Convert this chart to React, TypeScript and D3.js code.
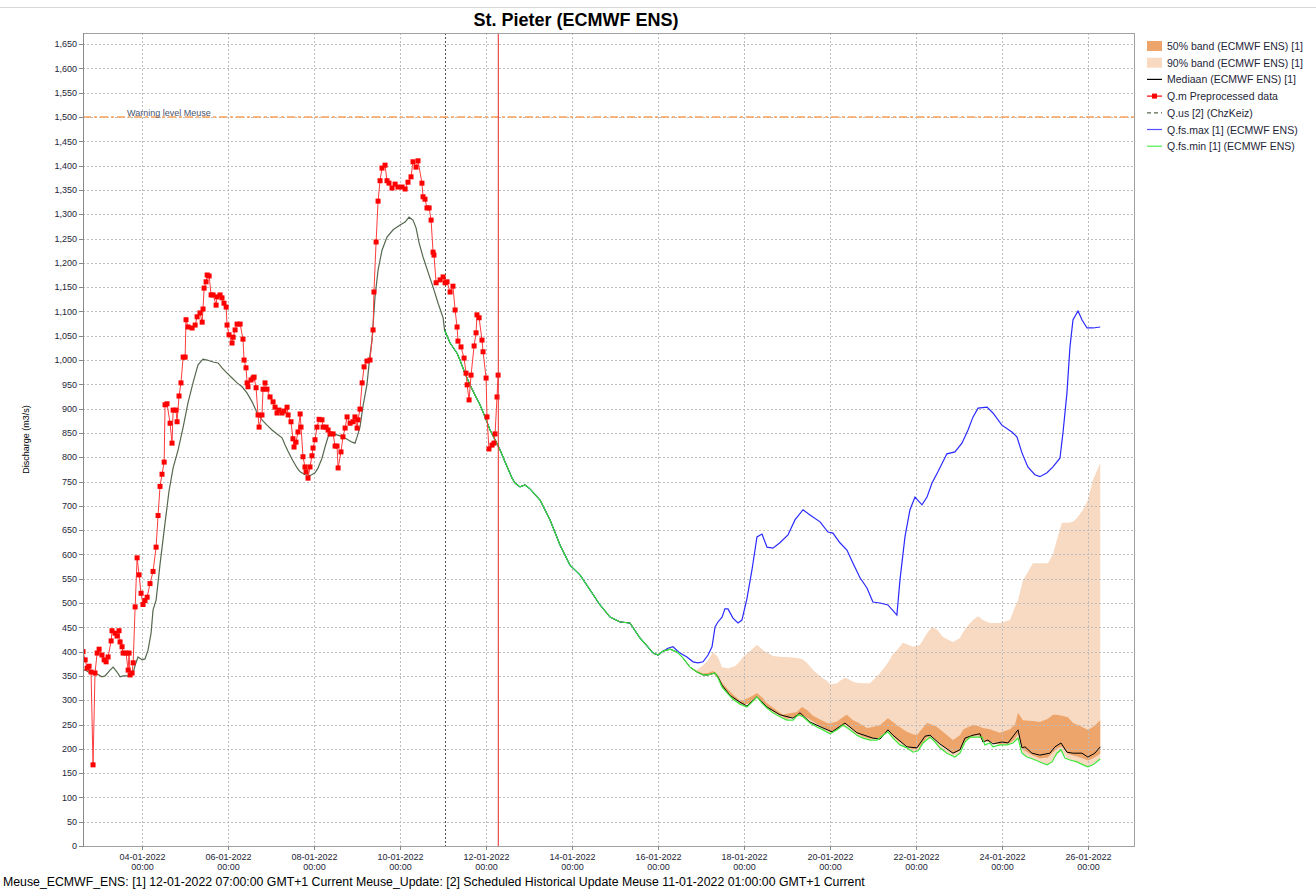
import React from "react";
import * as d3 from "d3";

// ---------- text ----------
const TITLE = "St. Pieter (ECMWF ENS)";
const Y_LABEL = "Discharge (m3/s)";
const FOOTER =
  "Meuse_ECMWF_ENS: [1] 12-01-2022 07:00:00 GMT+1 Current Meuse_Update: [2] Scheduled Historical Update Meuse 11-01-2022 01:00:00 GMT+1 Current";
const WARNING_LABEL = "Warning level Meuse";
const WARNING_LEVEL = 1500;

// ---------- axes ----------
const BASE = new Date(2022, 0, 2, 0, 0, 0); // hours below are counted from 02-01-2022 00:00
const xTickLabels = [
  "04-01-2022", "06-01-2022", "08-01-2022", "10-01-2022", "12-01-2022", "14-01-2022",
  "16-01-2022", "18-01-2022", "20-01-2022", "22-01-2022", "24-01-2022", "26-01-2022",
];
const xTickTime = "00:00";
const yTickValues = d3.range(0, 1651, 50);
const xDomainHours = [15.2, 602.4];
const yDomain = [0, 1673];
const UPDATE_HOURS = 217; // 11-01-2022 01:00
const T0_HOURS = 247; // 12-01-2022 07:00

// ---------- series: [hours since 02-01-2022 00:00, m3/s] ----------
const qmPreprocessed: [number, number][] = [
  [15.2,400],[16.4,383],[17.5,366],[18.6,370],[19.7,358],[20.8,167],[21.9,356],[23.1,397],[24.2,405],[25.8,393],
  [27.0,383],[28.1,379],[29.2,389],[30.9,422],[31.4,443],[33.1,438],[34.2,432],[35.3,443],[35.9,420],[37.0,410],
  [37.6,397],[39.2,397],[40.4,362],[40.9,397],[41.5,352],[42.6,356],[43.2,377],[44.3,492],[45.4,593],[46.5,558],
  [47.6,520],[48.7,497],[49.8,505],[51.0,512],[52.6,540],[54.3,565],[56.0,615],[57.1,680],[58.2,740],[59.3,765],
  [60.5,790],[61.0,908],[62.1,910],[63.8,870],[64.9,829],[65.5,897],[67.1,897],[67.7,873],[68.8,926],[69.9,953],
  [71.1,1006],[72.2,1006],[72.7,1083],[73.8,1068],[76.1,1066],[77.8,1072],[78.9,1089],[80.5,1097],[81.7,1078],[82.2,1105],
  [82.8,1148],[83.9,1161],[84.5,1175],[85.6,1173],[86.7,1134],[87.8,1134],[89.5,1113],[90.0,1130],[91.7,1134],[92.8,1128],
  [93.9,1117],[95.1,1109],[95.6,1072],[96.7,1052],[98.4,1035],[99.0,1047],[100.1,1062],[101.2,1074],[102.9,1074],[104.5,1043],
  [105.1,1000],[106.2,984],[106.8,953],[107.3,945],[109.0,959],[110.1,963],[110.7,965],[111.8,943],[112.9,887],[113.5,862],
  [115.1,887],[115.7,940],[116.8,953],[117.9,940],[119.6,924],[121.3,914],[122.4,903],[123.5,891],[124.6,897],[126.3,891],
  [127.4,895],[129.1,903],[129.7,887],[131.3,873],[132.4,838],[133.0,821],[134.1,831],[135.2,852],[136.4,889],[136.9,862],
  [138.0,801],[139.1,780],[139.7,770],[140.8,757],[141.9,780],[143.0,803],[143.6,819],[144.7,836],[145.8,862],[147.0,878],
  [148.6,877],[149.2,862],[150.9,862],[152.0,856],[153.1,848],[154.8,848],[155.9,823],[157.0,823],[157.6,778],[159.2,811],
  [160.3,842],[161.5,860],[162.6,883],[164.3,870],[165.9,873],[167.0,883],[168.2,860],[168.7,877],[169.8,899],[171.0,953],
  [172.1,986],[173.7,998],[175.4,1000],[177.1,1062],[177.6,1140],[178.8,1243],[179.9,1327],[181.0,1369],[182.1,1395],[183.8,1401],
  [184.9,1369],[186.0,1364],[187.7,1354],[189.4,1362],[191.0,1356],[193.3,1356],[195.0,1352],[196.6,1366],[198.3,1377],[199.4,1408],
  [201.1,1397],[202.2,1410],[204.4,1364],[205.0,1336],[206.1,1331],[207.2,1313],[208.4,1313],[209.5,1288],[210.6,1222],[211.1,1216],
  [212.3,1159],[214.5,1165],[216.2,1171],[217.3,1159],[218.4,1161],[220.1,1140],[221.7,1152],[222.9,1103],[224.0,1068],[224.5,1039],
  [226.2,1027],[227.9,1004],[229.0,973],[229.6,949],[230.7,918],[231.8,969],[233.5,1029],[234.6,1056],[235.1,1093],[236.3,1087],
  [237.9,1041],[238.5,1017],[240.2,963],[240.7,883],[241.8,817],[243.5,825],[244.6,829],[245.2,848],[246.3,924],[246.9,969],
];

const qusChzKeiz: [number, number][] = [
  [15.2,362],[16.4,362],[19.1,356],[23.1,354],[25.8,348],[27.5,350],[30.3,362],[32.0,368],[34.2,358],[35.9,348],
  [37.6,350],[41.5,350],[43.2,356],[44.3,372],[45.9,389],[48.2,383],[49.8,385],[51.5,403],[53.2,438],[54.3,486],
  [56.0,506],[58.2,580],[61.0,665],[63.2,730],[65.5,778],[68.3,815],[71.1,862],[73.8,912],[76.6,953],[79.4,990],
  [82.2,1002],[84.5,1000],[87.8,996],[90.6,994],[92.8,984],[95.6,973],[98.4,963],[101.2,953],[104.0,945],[106.8,932],
  [109.6,914],[112.4,891],[115.1,877],[117.9,866],[120.7,856],[123.5,848],[126.3,840],[128.0,825],[129.7,812],[131.9,796],
  [134.7,778],[136.4,770],[139.1,764],[141.9,762],[144.7,768],[146.4,778],[148.6,798],[150.3,821],[152.0,842],[154.2,848],
  [157.0,846],[160.3,842],[165.4,831],[167.0,829],[168.2,842],[169.8,862],[171.5,905],[173.7,950],[175.4,1010],[176.5,1041],
  [178.2,1130],[179.9,1185],[182.1,1226],[184.9,1253],[188.3,1268],[192.2,1278],[195.0,1284],[197.2,1294],[199.4,1288],[201.1,1272],
  [202.8,1241],[205.0,1212],[207.8,1181],[210.6,1150],[213.4,1117],[216.2,1087],[217.0,1062],
];

const qfsMin: [number, number][] = [
  [217,1062],[220.1,1035],[224.0,1014],[225.6,1000],[228.4,973],[231.2,949],[234.0,928],[236.8,908],[239.6,883],[242.4,856],
  [245.2,836],[248.0,815],[250.8,790],[254.7,757],[256.3,747],[259.1,739],[261.9,743],[264.7,735],[270.3,712],[275.9,671],
  [281.5,619],[287.0,578],[292.6,558],[298.2,527],[303.8,496],[309.4,471],[315.0,461],[320.5,459],[326.1,428],[330.0,412],
  [333.4,397],[336.2,393],[339.0,401],[342.9,405],[346.8,399],[350.1,387],[354.0,368],[357.9,358],[361.3,352],[364.1,352],
  [368.0,356],[369.6,346],[371.9,327],[374.7,315],[378.0,302],[381.9,292],[385.8,286],[388.6,296],[391.4,307],[394.2,294],
  [397.0,284],[400.3,274],[404.2,266],[408.1,259],[411.5,259],[414.3,270],[417.1,266],[421.0,253],[424.9,245],[428.2,239],
  [432.2,231],[436.1,239],[439.4,249],[443.3,239],[447.2,228],[450.6,222],[454.5,218],[458.4,218],[461.7,228],[464.5,235],
  [467.3,222],[471.2,208],[475.1,202],[478.5,193],[481.3,196],[484.1,212],[488.0,224],[490.8,214],[493.5,202],[497.4,191],
  [501.9,183],[504.7,191],[507.5,214],[510.3,224],[514.2,224],[517.0,224],[518.6,208],[521.4,212],[523.1,204],[527.0,208],
  [530.9,208],[534.3,212],[537.1,222],[539.3,191],[542.1,183],[545.4,179],[549.3,173],[553.3,167],[556.1,173],[558.8,191],
  [561.1,198],[563.3,181],[566.1,177],[570.0,173],[573.4,167],[576.1,163],[578.9,167],[583,179],
];

const mediaan: [number, number][] = [
  [217,1062],[220.1,1035],[224.0,1014],[225.6,1000],[228.4,973],[231.2,949],[234.0,928],[236.8,908],[239.6,883],[242.4,856],
  [245.2,836],[248.0,815],[250.8,790],[254.7,757],[256.3,747],[259.1,739],[261.9,743],[264.7,735],[270.3,712],[275.9,671],
  [281.5,619],[287.0,578],[292.6,558],[298.2,527],[303.8,496],[309.4,471],[315.0,461],[320.5,459],[326.1,428],[330.0,412],
  [333.4,397],[336.2,393],[339.0,401],[342.9,405],[346.8,399],[350.1,387],[354.0,368],[357.9,358],[361.3,352],[364.1,352],
  [368.0,356],[369.6,348],[371.9,331],[376.3,310],[381.9,296],[385.8,288],[391.4,307],[397.0,286],[404.2,270],[411.5,263],
  [415.4,274],[421.0,255],[428.2,243],[433.3,235],[440.5,253],[447.2,233],[456.1,222],[460.1,220],[464.5,239],[467.3,228],
  [475.1,204],[480.7,202],[485.2,226],[488.0,228],[493.5,210],[500.8,191],[504.7,198],[507.5,222],[512.0,228],[515.9,231],
  [517.5,214],[520.3,218],[523.1,210],[528.1,214],[531.5,212],[537.1,239],[539.3,202],[541.0,204],[544.9,191],[549.3,187],
  [554.9,191],[557.7,204],[561.1,212],[564.4,193],[567.8,191],[572.8,191],[576.1,183],[580.0,191],[583,204],
];

const qfsMax: [number, number][] = [
  [217,1062],[220.1,1035],[224.0,1014],[225.6,1000],[228.4,973],[231.2,949],[234.0,928],[236.8,908],[239.6,883],[242.4,856],
  [245.2,836],[248.0,815],[250.8,790],[254.7,757],[256.3,747],[259.1,739],[261.9,743],[264.7,735],[270.3,712],[275.9,671],
  [281.5,619],[287.0,578],[292.6,558],[298.2,527],[303.8,496],[309.4,471],[315.0,461],[320.5,459],[326.1,428],[330.0,412],
  [333.4,397],[336.2,393],[339.0,401],[341.7,407],[344.5,410],[348.4,397],[352.3,389],[355.7,379],[358.5,377],[361.3,379],
  [364.1,393],[366.3,410],[368.0,451],[369.6,461],[371.9,471],[373.5,488],[375.2,488],[378.0,469],[380.8,459],[383.0,465],
  [385.8,509],[388.6,568],[391.4,636],[394.2,642],[397.0,615],[400.3,613],[404.2,624],[408.7,640],[412.6,671],[417.1,692],
  [421.0,681],[426.6,667],[431.0,646],[433.8,644],[437.7,624],[441.6,609],[445.0,582],[448.9,552],[452.8,531],[456.1,502],
  [460.1,500],[464.5,496],[469.5,475],[471.2,547],[474.0,636],[476.8,692],[479.6,718],[483.5,702],[486.3,718],[489.1,747],
  [492.4,770],[497.4,807],[501.9,811],[505.8,829],[509.2,856],[512.0,883],[514.8,901],[519.8,903],[523.1,891],[528.1,866],
  [533.7,852],[536.5,842],[539.3,809],[542.6,780],[546.5,764],[549.3,760],[553.3,768],[556.6,780],[560.5,798],[562.2,850],
  [564.4,932],[566.1,1027],[567.8,1083],[570.6,1101],[572.8,1083],[575.6,1066],[578.9,1066],[583,1068],
];

// ensemble bands (hours since 02-01-2022 00:00)
const bandHours = [
  354.0,357.9,361.3,364.1,366.8,369.6,371.9,375.2,379.1,381.9,383.6,387.5,391.4,394.8,397.0,400.3,405.9,408.1,413.7,416.5,
  419.3,422.7,427.7,430.5,432.2,436.1,437.7,440.5,441.6,445.0,447.2,450.6,452.8,454.5,460.1,464.5,467.3,469.5,472.9,475.1,
  478.5,480.7,482.4,486.3,489.1,491.9,495.2,500.8,504.7,506.4,508.6,512.0,514.8,517.5,521.4,527.0,532.6,535.4,537.1,539.9,
  545.4,549.3,553.8,556.6,558.8,561.6,565.0,567.8,570.0,573.4,576.1,578.9,583,
];
const band90Lo = [
  368,358,352,352,355,346,327,313,299,292,289,292,307,292,284,274,263,259,268,267,
  259,250,240,235,231,239,244,246,244,234,228,222,220,218,223,235,222,214,205,202,
  193,195,202,219,220,209,197,185,191,205,218,224,224,218,212,208,210,216,222,189,
  179,173,168,176,191,194,179,176,173,167,163,167,179,
];
const band50Lo = [
  368,358,352,352,355,347,329,315,301,294,291,294,308,295,286,277,266,262,266,270,
  264,256,244,240,234,240,245,250,249,240,232,225,222,220,222,238,226,218,210,205,
  199,200,206,224,226,216,206,190,196,210,220,226,228,216,214,210,212,220,230,198,
  186,180,182,193,200,205,190,186,184,180,176,180,190,
];
const band50Hi = [
  368,360,355,356,360,352,336,322,308,300,300,306,315,304,294,285,270,272,276,286,
  280,268,258,253,252,256,261,268,270,259,255,248,243,244,249,263,255,249,240,235,
  230,228,236,253,250,245,235,218,228,239,244,249,247,243,240,233,240,250,274,259,
  257,255,262,270,270,268,265,253,250,244,239,245,259,
];
const band90Hi = [
  368,362,372,382,399,389,368,366,370,380,389,401,414,403,398,391,389,389,387,385,
  377,362,346,340,333,335,340,346,345,338,336,335,335,335,356,377,395,403,418,415,
  410,412,414,438,451,445,430,420,428,440,451,465,473,465,459,459,465,492,506,547,
  582,582,582,600,630,665,665,667,675,692,712,753,788,
];

// ---------- styling ----------
const W = 1316;
const H = 891;
const PLOT = { left: 83, right: 1135, top: 33, bottom: 846 };
const FONT = "'Liberation Sans', Arial, sans-serif";
const C = {
  band50: "#EEA56B",
  band90: "#F8DAC2",
  median: "#000000",
  obs: "#FF0000",
  obsLine: "#FF3C3C",
  qus: "#56684F",
  max: "#2A2AFF",
  min: "#3CE83C",
  grid: "#BDBDBD",
  frame: "#A0A0A0",
  text: "#1E2638",
  warn: "#F9A25C",
};

const legendItems = [
  { label: "50% band (ECMWF ENS) [1]", kind: "rect", color: C.band50 },
  { label: "90% band (ECMWF ENS) [1]", kind: "rect", color: C.band90 },
  { label: "Mediaan (ECMWF ENS) [1]", kind: "line", color: C.median },
  { label: "Q.m Preprocessed data", kind: "marker", color: C.obs },
  { label: "Q.us [2] (ChzKeiz)", kind: "dash", color: C.qus },
  { label: "Q.fs.max [1] (ECMWF ENS)", kind: "line", color: "#5050FF" },
  { label: "Q.fs.min [1] (ECMWF ENS)", kind: "line", color: "#50F050" },
];

const toDate = (h: number) => new Date(BASE.getTime() + h * 3600000);
const parseTick = d3.timeParse("%d-%m-%Y");

export default function App() {
  const x = d3
    .scaleTime()
    .domain([toDate(xDomainHours[0]), toDate(xDomainHours[1])])
    .range([PLOT.left, PLOT.right]);
  const y = d3.scaleLinear().domain(yDomain).range([PLOT.bottom, PLOT.top]);

  const line = d3
    .line<[number, number]>()
    .x((d) => x(toDate(d[0])))
    .y((d) => y(d[1]));

  const area = (lo: number[], hi: number[]) =>
    d3
      .area<number>()
      .x((h) => x(toDate(h)))
      .y0((_, i) => y(lo[i]))
      .y1((_, i) => y(hi[i]))(bandHours) || "";

  const xTicks = xTickLabels.map((s) => ({ label: s, date: parseTick(s) as Date }));
  const fmt = d3.format(",");
  const xUpdate = x(toDate(UPDATE_HOURS));
  const xT0 = x(toDate(T0_HOURS));
  const yWarn = y(WARNING_LEVEL);

  return (
    <svg
      width={W}
      height={H}
      style={{ position: "absolute", left: 0, top: 0, background: "#fff" }}
      fontFamily={FONT}
    >
      <rect x={0} y={0} width={W} height={H} fill="#fff" />
      <line x1={0} x2={W} y1={7.5} y2={7.5} stroke="#D8D8D8" />

      {/* title */}
      <text x={576} y={26} textAnchor="middle" fontSize={18} fontWeight="bold" fill="#000">
        {TITLE}
      </text>

      <defs>
        <clipPath id="plotClip">
          <rect x={PLOT.left} y={PLOT.top} width={PLOT.right - PLOT.left} height={PLOT.bottom - PLOT.top} />
        </clipPath>
      </defs>

      {/* bands */}
      <g clipPath="url(#plotClip)">
        <path d={area(band90Lo, band90Hi)} fill={C.band90} />
        <path d={area(band50Lo, band50Hi)} fill={C.band50} />
      </g>

      {/* grid */}
      <g>
        {yTickValues.slice(1).map((v) => (
          <line
            key={"gy" + v}
            x1={PLOT.left}
            x2={PLOT.right}
            y1={Math.round(y(v)) + 0.5}
            y2={Math.round(y(v)) + 0.5}
            stroke={C.grid}
            strokeDasharray="2,2"
          />
        ))}
        {xTicks.map((t) => (
          <line
            key={"gx" + t.label}
            x1={Math.round(x(t.date)) + 0.5}
            x2={Math.round(x(t.date)) + 0.5}
            y1={PLOT.top}
            y2={PLOT.bottom}
            stroke={C.grid}
            strokeDasharray="2,2"
          />
        ))}
        <line
          x1={Math.round(xUpdate) + 0.5}
          x2={Math.round(xUpdate) + 0.5}
          y1={PLOT.top}
          y2={PLOT.bottom}
          stroke="#505050"
          strokeDasharray="2,2"
        />
      </g>

      {/* warning level */}
      <line
        x1={PLOT.left}
        x2={PLOT.right}
        y1={yWarn}
        y2={yWarn}
        stroke={C.warn}
        strokeWidth={1.5}
        strokeDasharray="8,3,3,3"
      />
      <text x={127} y={yWarn - 1.5} fontSize={9} fill="#4A5570">
        {WARNING_LABEL}
      </text>

      {/* lines */}
      <g clipPath="url(#plotClip)" fill="none">
        <path d={line(qusChzKeiz) || ""} stroke={C.qus} strokeWidth={1.2} />
        <path d={line(qfsMax) || ""} stroke={C.max} strokeWidth={1.2} />
        <path d={line(mediaan) || ""} stroke={C.median} strokeWidth={1} />
        <path d={line(qfsMin) || ""} stroke={C.min} strokeWidth={1.2} />
        <path d={line(qmPreprocessed) || ""} stroke={C.obsLine} strokeWidth={1} />
        {qmPreprocessed.map((d, i) => (
          <rect
            key={"m" + i}
            x={x(toDate(d[0])) - 2.5}
            y={y(d[1]) - 2.5}
            width={5}
            height={5}
            fill={C.obs}
          />
        ))}
      </g>

      {/* forecast T0 */}
      <line x1={xT0} x2={xT0} y1={PLOT.top} y2={PLOT.bottom} stroke="#E8282A" strokeWidth={1} />

      {/* frame */}
      <rect
        x={PLOT.left + 0.5}
        y={PLOT.top + 0.5}
        width={PLOT.right - PLOT.left - 1}
        height={PLOT.bottom - PLOT.top}
        fill="none"
        stroke={C.frame}
      />
      <line x1={PLOT.left + 0.5} x2={PLOT.left + 0.5} y1={PLOT.top} y2={PLOT.bottom + 1} stroke="#8A8A8A" />

      {/* y axis */}
      <g fontSize={9} fill={C.text} textAnchor="end">
        {yTickValues.map((v) => (
          <g key={"yt" + v}>
            <line
              x1={PLOT.left - 4}
              x2={PLOT.left}
              y1={Math.round(y(v)) + 0.5}
              y2={Math.round(y(v)) + 0.5}
              stroke="#8A8A8A"
            />
            <text x={PLOT.left - 6} y={y(v) + 3.2}>
              {fmt(v)}
            </text>
          </g>
        ))}
      </g>
      <text
        transform={`translate(29,${(PLOT.top + PLOT.bottom) / 2}) rotate(-90)`}
        textAnchor="middle"
        fontSize={9}
        fill="#000"
      >
        {Y_LABEL}
      </text>

      {/* x axis */}
      <g fontSize={9} fill={C.text} textAnchor="middle">
        {xTicks.map((t) => {
          const xx = Math.round(x(t.date)) + 0.5;
          return (
            <g key={"xt" + t.label}>
              <line x1={xx} x2={xx} y1={PLOT.bottom} y2={PLOT.bottom + 4} stroke="#8A8A8A" />
              <text x={xx} y={859.5}>
                {t.label}
              </text>
              <text x={xx} y={869.5}>
                {xTickTime}
              </text>
            </g>
          );
        })}
      </g>

      {/* legend */}
      <g fontSize={10.5} fill={C.text}>
        {legendItems.map((it, i) => {
          const cy = 46 + i * 16.7;
          return (
            <g key={it.label}>
              {it.kind === "rect" && <rect x={1147} y={cy - 5} width={15} height={10} fill={it.color} />}
              {it.kind === "line" && (
                <line x1={1147} x2={1162} y1={cy} y2={cy} stroke={it.color} strokeWidth={1.2} />
              )}
              {it.kind === "dash" && (
                <line x1={1147} x2={1162} y1={cy} y2={cy} stroke={it.color} strokeWidth={1.2} strokeDasharray="4,3" />
              )}
              {it.kind === "marker" && (
                <g>
                  <line x1={1147} x2={1162} y1={cy} y2={cy} stroke={it.color} strokeWidth={1.2} />
                  <rect x={1152} y={cy - 2.5} width={5} height={5} fill={it.color} />
                </g>
              )}
              <text x={1167} y={cy + 4}>
                {it.label}
              </text>
            </g>
          );
        })}
      </g>

      {/* footer */}
      <text x={3} y={886} fontSize={12.3} fill="#000">
        {FOOTER}
      </text>
    </svg>
  );
}
